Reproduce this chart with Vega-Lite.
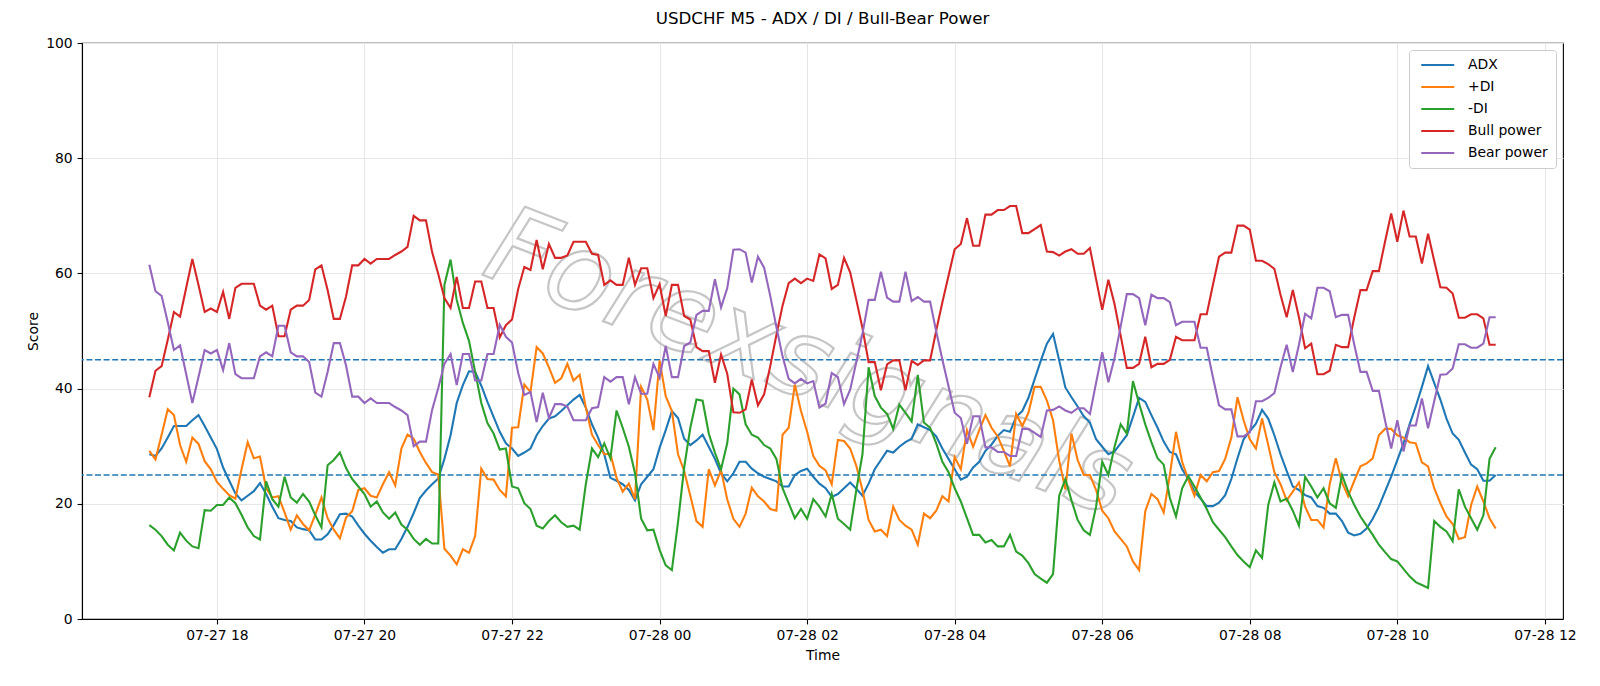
{
  "$schema": "https://vega.github.io/schema/vega-lite/v6.json",
  "width": 1481,
  "height": 576,
  "autosize": {"type": "none"},
  "padding": {"left": 82, "top": 43, "right": 37, "bottom": 67},
  "background": "white",
  "title": {
    "text": "USDCHF M5 - ADX / DI / Bull-Bear Power",
    "fontSize": 16.7,
    "fontWeight": "normal",
    "font": "DejaVu Sans",
    "color": "#000000",
    "anchor": "middle",
    "offset": 8
  },
  "config": {
    "font": "DejaVu Sans",
    "view": {"stroke": "#000000", "strokeWidth": 1.1},
    "axis": {
      "domainColor": "#000000",
      "domainWidth": 1.1,
      "tickColor": "#000000",
      "tickWidth": 1.1,
      "tickSize": 4.9,
      "labelFontSize": 13.9,
      "labelColor": "#000000",
      "labelPadding": 4.9,
      "titleFontSize": 13.9,
      "titleFontWeight": "normal",
      "titleColor": "#000000",
      "titlePadding": 5.6,
      "gridColor": "#e6e6e6",
      "gridWidth": 1.1
    },
    "legend": {
      "labelFontSize": 13.9,
      "labelColor": "#000000"
    }
  },
  "datasets": {
    "dmi": [
      {"t":"2025-07-27T17:05:00Z","ADX":28.6,"+DI":29.2,"-DI":16.3,"Bull power":38.5,"Bear power":61.5},
      {"t":"2025-07-27T17:10:00Z","ADX":28.3,"+DI":27.7,"-DI":15.5,"Bull power":43.1,"Bear power":56.9},
      {"t":"2025-07-27T17:15:00Z","ADX":29.6,"+DI":32.0,"-DI":14.4,"Bull power":43.9,"Bear power":56.1},
      {"t":"2025-07-27T17:20:00Z","ADX":31.5,"+DI":36.4,"-DI":12.9,"Bull power":48.5,"Bear power":51.5},
      {"t":"2025-07-27T17:25:00Z","ADX":33.5,"+DI":35.4,"-DI":11.9,"Bull power":53.3,"Bear power":46.7},
      {"t":"2025-07-27T17:30:00Z","ADX":33.5,"+DI":30.2,"-DI":15.0,"Bull power":52.5,"Bear power":47.5},
      {"t":"2025-07-27T17:35:00Z","ADX":33.5,"+DI":27.3,"-DI":13.6,"Bull power":57.5,"Bear power":42.5},
      {"t":"2025-07-27T17:40:00Z","ADX":34.5,"+DI":31.5,"-DI":12.6,"Bull power":62.5,"Bear power":37.5},
      {"t":"2025-07-27T17:45:00Z","ADX":35.4,"+DI":30.4,"-DI":12.3,"Bull power":58.0,"Bear power":42.0},
      {"t":"2025-07-27T17:50:00Z","ADX":33.5,"+DI":27.4,"-DI":18.9,"Bull power":53.3,"Bear power":46.7},
      {"t":"2025-07-27T17:55:00Z","ADX":31.5,"+DI":26.0,"-DI":18.8,"Bull power":53.9,"Bear power":46.1},
      {"t":"2025-07-27T18:00:00Z","ADX":29.5,"+DI":23.8,"-DI":19.8,"Bull power":53.3,"Bear power":46.7},
      {"t":"2025-07-27T18:05:00Z","ADX":26.3,"+DI":22.6,"-DI":19.8,"Bull power":56.8,"Bear power":43.2},
      {"t":"2025-07-27T18:10:00Z","ADX":24.0,"+DI":21.5,"-DI":21.1,"Bull power":52.1,"Bear power":47.9},
      {"t":"2025-07-27T18:15:00Z","ADX":21.8,"+DI":20.9,"-DI":20.1,"Bull power":57.5,"Bear power":42.5},
      {"t":"2025-07-27T18:20:00Z","ADX":20.6,"+DI":26.0,"-DI":18.1,"Bull power":58.2,"Bear power":41.8},
      {"t":"2025-07-27T18:25:00Z","ADX":21.4,"+DI":30.7,"-DI":15.9,"Bull power":58.2,"Bear power":41.8},
      {"t":"2025-07-27T18:30:00Z","ADX":22.2,"+DI":27.9,"-DI":14.4,"Bull power":58.2,"Bear power":41.8},
      {"t":"2025-07-27T18:35:00Z","ADX":23.6,"+DI":28.2,"-DI":13.8,"Bull power":54.4,"Bear power":45.6},
      {"t":"2025-07-27T18:40:00Z","ADX":21.7,"+DI":22.7,"-DI":23.9,"Bull power":53.7,"Bear power":46.3},
      {"t":"2025-07-27T18:45:00Z","ADX":19.5,"+DI":21.1,"-DI":20.8,"Bull power":54.4,"Bear power":45.6},
      {"t":"2025-07-27T18:50:00Z","ADX":17.5,"+DI":21.3,"-DI":19.5,"Bull power":49.1,"Bear power":50.9},
      {"t":"2025-07-27T18:55:00Z","ADX":17.2,"+DI":18.5,"-DI":24.7,"Bull power":49.1,"Bear power":50.9},
      {"t":"2025-07-27T19:00:00Z","ADX":17.0,"+DI":15.5,"-DI":21.1,"Bull power":53.7,"Bear power":46.3},
      {"t":"2025-07-27T19:05:00Z","ADX":15.9,"+DI":18.0,"-DI":20.2,"Bull power":54.4,"Bear power":45.6},
      {"t":"2025-07-27T19:10:00Z","ADX":15.6,"+DI":16.5,"-DI":21.7,"Bull power":54.4,"Bear power":45.6},
      {"t":"2025-07-27T19:15:00Z","ADX":15.4,"+DI":15.4,"-DI":20.4,"Bull power":55.4,"Bear power":44.6},
      {"t":"2025-07-27T19:20:00Z","ADX":13.8,"+DI":18.1,"-DI":18.0,"Bull power":60.7,"Bear power":39.3},
      {"t":"2025-07-27T19:25:00Z","ADX":13.8,"+DI":21.1,"-DI":15.9,"Bull power":61.4,"Bear power":38.6},
      {"t":"2025-07-27T19:30:00Z","ADX":14.7,"+DI":17.5,"-DI":26.7,"Bull power":57.1,"Bear power":42.9},
      {"t":"2025-07-27T19:35:00Z","ADX":16.3,"+DI":15.5,"-DI":27.6,"Bull power":52.1,"Bear power":47.9},
      {"t":"2025-07-27T19:40:00Z","ADX":18.2,"+DI":14.0,"-DI":28.9,"Bull power":52.1,"Bear power":47.9},
      {"t":"2025-07-27T19:45:00Z","ADX":18.3,"+DI":17.6,"-DI":26.2,"Bull power":56.0,"Bear power":44.0},
      {"t":"2025-07-27T19:50:00Z","ADX":17.8,"+DI":18.7,"-DI":24.3,"Bull power":61.4,"Bear power":38.6},
      {"t":"2025-07-27T19:55:00Z","ADX":16.2,"+DI":22.4,"-DI":23.0,"Bull power":61.4,"Bear power":38.6},
      {"t":"2025-07-27T20:00:00Z","ADX":14.8,"+DI":22.7,"-DI":21.7,"Bull power":62.5,"Bear power":37.5},
      {"t":"2025-07-27T20:05:00Z","ADX":13.6,"+DI":21.4,"-DI":19.5,"Bull power":61.7,"Bear power":38.3},
      {"t":"2025-07-27T20:10:00Z","ADX":12.5,"+DI":21.1,"-DI":20.4,"Bull power":62.5,"Bear power":37.5},
      {"t":"2025-07-27T20:15:00Z","ADX":11.5,"+DI":23.4,"-DI":18.5,"Bull power":62.5,"Bear power":37.5},
      {"t":"2025-07-27T20:20:00Z","ADX":12.1,"+DI":25.5,"-DI":17.4,"Bull power":62.5,"Bear power":37.5},
      {"t":"2025-07-27T20:25:00Z","ADX":12.1,"+DI":23.2,"-DI":18.5,"Bull power":63.2,"Bear power":36.8},
      {"t":"2025-07-27T20:30:00Z","ADX":13.9,"+DI":29.6,"-DI":16.4,"Bull power":63.8,"Bear power":36.2},
      {"t":"2025-07-27T20:35:00Z","ADX":16.0,"+DI":32.0,"-DI":15.5,"Bull power":64.6,"Bear power":35.4},
      {"t":"2025-07-27T20:40:00Z","ADX":18.4,"+DI":31.3,"-DI":13.9,"Bull power":70.0,"Bear power":30.0},
      {"t":"2025-07-27T20:45:00Z","ADX":21.0,"+DI":29.0,"-DI":12.9,"Bull power":69.2,"Bear power":30.8},
      {"t":"2025-07-27T20:50:00Z","ADX":22.3,"+DI":27.1,"-DI":13.9,"Bull power":69.2,"Bear power":30.8},
      {"t":"2025-07-27T20:55:00Z","ADX":23.4,"+DI":25.5,"-DI":13.1,"Bull power":63.7,"Bear power":36.3},
      {"t":"2025-07-27T21:00:00Z","ADX":24.4,"+DI":25.1,"-DI":13.1,"Bull power":59.9,"Bear power":40.1},
      {"t":"2025-07-27T21:05:00Z","ADX":27.8,"+DI":12.2,"-DI":58.0,"Bull power":55.7,"Bear power":44.3},
      {"t":"2025-07-27T21:10:00Z","ADX":31.9,"+DI":11.0,"-DI":62.4,"Bull power":54.0,"Bear power":46.0},
      {"t":"2025-07-27T21:15:00Z","ADX":37.5,"+DI":9.5,"-DI":55.4,"Bull power":59.4,"Bear power":40.6},
      {"t":"2025-07-27T21:20:00Z","ADX":40.6,"+DI":12.1,"-DI":51.4,"Bull power":54.0,"Bear power":46.0},
      {"t":"2025-07-27T21:25:00Z","ADX":43.0,"+DI":11.5,"-DI":48.3,"Bull power":54.0,"Bear power":46.0},
      {"t":"2025-07-27T21:30:00Z","ADX":42.9,"+DI":14.4,"-DI":42.9,"Bull power":58.6,"Bear power":41.4},
      {"t":"2025-07-27T21:35:00Z","ADX":40.5,"+DI":26.1,"-DI":37.5,"Bull power":58.6,"Bear power":41.4},
      {"t":"2025-07-27T21:40:00Z","ADX":37.7,"+DI":24.3,"-DI":34.0,"Bull power":54.0,"Bear power":46.0},
      {"t":"2025-07-27T21:45:00Z","ADX":35.1,"+DI":24.2,"-DI":32.2,"Bull power":54.0,"Bear power":46.0},
      {"t":"2025-07-27T21:50:00Z","ADX":32.5,"+DI":22.4,"-DI":29.4,"Bull power":48.9,"Bear power":51.1},
      {"t":"2025-07-27T21:55:00Z","ADX":30.5,"+DI":21.3,"-DI":29.6,"Bull power":51.0,"Bear power":49.0},
      {"t":"2025-07-27T22:00:00Z","ADX":29.6,"+DI":33.2,"-DI":23.0,"Bull power":52.0,"Bear power":48.0},
      {"t":"2025-07-27T22:05:00Z","ADX":28.3,"+DI":33.3,"-DI":22.7,"Bull power":57.3,"Bear power":42.7},
      {"t":"2025-07-27T22:10:00Z","ADX":28.9,"+DI":40.7,"-DI":20.1,"Bull power":61.1,"Bear power":38.9},
      {"t":"2025-07-27T22:15:00Z","ADX":29.6,"+DI":39.4,"-DI":19.1,"Bull power":60.6,"Bear power":39.4},
      {"t":"2025-07-27T22:20:00Z","ADX":31.9,"+DI":47.2,"-DI":16.2,"Bull power":65.8,"Bear power":34.2},
      {"t":"2025-07-27T22:25:00Z","ADX":33.5,"+DI":46.1,"-DI":15.7,"Bull power":60.7,"Bear power":39.3},
      {"t":"2025-07-27T22:30:00Z","ADX":34.8,"+DI":43.7,"-DI":17.0,"Bull power":65.1,"Bear power":34.9},
      {"t":"2025-07-27T22:35:00Z","ADX":35.2,"+DI":41.0,"-DI":18.0,"Bull power":62.7,"Bear power":37.3},
      {"t":"2025-07-27T22:40:00Z","ADX":36.1,"+DI":41.8,"-DI":16.8,"Bull power":62.7,"Bear power":37.3},
      {"t":"2025-07-27T22:45:00Z","ADX":37.1,"+DI":44.3,"-DI":16.0,"Bull power":63.1,"Bear power":36.9},
      {"t":"2025-07-27T22:50:00Z","ADX":38.1,"+DI":41.4,"-DI":16.2,"Bull power":65.5,"Bear power":34.5},
      {"t":"2025-07-27T22:55:00Z","ADX":38.9,"+DI":42.4,"-DI":15.5,"Bull power":65.5,"Bear power":34.5},
      {"t":"2025-07-27T23:00:00Z","ADX":36.7,"+DI":36.7,"-DI":23.4,"Bull power":65.5,"Bear power":34.5},
      {"t":"2025-07-27T23:05:00Z","ADX":33.8,"+DI":32.0,"-DI":29.6,"Bull power":63.4,"Bear power":36.6},
      {"t":"2025-07-27T23:10:00Z","ADX":31.5,"+DI":30.2,"-DI":28.1,"Bull power":63.2,"Bear power":36.8},
      {"t":"2025-07-27T23:15:00Z","ADX":28.6,"+DI":28.6,"-DI":30.5,"Bull power":58.0,"Bear power":42.0},
      {"t":"2025-07-27T23:20:00Z","ADX":24.5,"+DI":28.7,"-DI":27.9,"Bull power":58.8,"Bear power":41.2},
      {"t":"2025-07-27T23:25:00Z","ADX":24.0,"+DI":24.5,"-DI":36.2,"Bull power":58.0,"Bear power":42.0},
      {"t":"2025-07-27T23:30:00Z","ADX":23.4,"+DI":22.1,"-DI":33.2,"Bull power":58.0,"Bear power":42.0},
      {"t":"2025-07-27T23:35:00Z","ADX":22.4,"+DI":23.5,"-DI":29.9,"Bull power":62.7,"Bear power":37.3},
      {"t":"2025-07-27T23:40:00Z","ADX":20.6,"+DI":20.8,"-DI":25.3,"Bull power":58.0,"Bear power":42.0},
      {"t":"2025-07-27T23:45:00Z","ADX":23.4,"+DI":40.3,"-DI":17.4,"Bull power":60.9,"Bear power":39.1},
      {"t":"2025-07-27T23:50:00Z","ADX":24.7,"+DI":38.1,"-DI":15.4,"Bull power":60.9,"Bear power":39.1},
      {"t":"2025-07-27T23:55:00Z","ADX":26.0,"+DI":32.8,"-DI":15.5,"Bull power":55.7,"Bear power":44.3},
      {"t":"2025-07-28T00:00:00Z","ADX":29.7,"+DI":44.9,"-DI":12.0,"Bull power":58.1,"Bear power":41.9},
      {"t":"2025-07-28T00:05:00Z","ADX":32.8,"+DI":38.7,"-DI":9.3,"Bull power":52.6,"Bear power":47.4},
      {"t":"2025-07-28T00:10:00Z","ADX":36.1,"+DI":36.1,"-DI":8.5,"Bull power":58.0,"Bear power":42.0},
      {"t":"2025-07-28T00:15:00Z","ADX":34.9,"+DI":28.6,"-DI":16.8,"Bull power":58.0,"Bear power":42.0},
      {"t":"2025-07-28T00:20:00Z","ADX":31.3,"+DI":25.7,"-DI":26.3,"Bull power":52.6,"Bear power":47.4},
      {"t":"2025-07-28T00:25:00Z","ADX":30.2,"+DI":21.4,"-DI":33.2,"Bull power":52.0,"Bear power":48.0},
      {"t":"2025-07-28T00:30:00Z","ADX":31.0,"+DI":17.0,"-DI":38.1,"Bull power":47.2,"Bear power":52.8},
      {"t":"2025-07-28T00:35:00Z","ADX":32.0,"+DI":16.0,"-DI":37.9,"Bull power":46.5,"Bear power":53.5},
      {"t":"2025-07-28T00:40:00Z","ADX":29.9,"+DI":26.0,"-DI":32.2,"Bull power":46.5,"Bear power":53.5},
      {"t":"2025-07-28T00:45:00Z","ADX":27.8,"+DI":23.2,"-DI":28.9,"Bull power":41.0,"Bear power":59.0},
      {"t":"2025-07-28T00:50:00Z","ADX":25.3,"+DI":25.8,"-DI":26.0,"Bull power":45.9,"Bear power":54.1},
      {"t":"2025-07-28T00:55:00Z","ADX":23.9,"+DI":20.8,"-DI":30.5,"Bull power":42.6,"Bear power":57.4},
      {"t":"2025-07-28T01:00:00Z","ADX":25.3,"+DI":17.4,"-DI":40.0,"Bull power":35.9,"Bear power":64.1},
      {"t":"2025-07-28T01:05:00Z","ADX":27.3,"+DI":16.0,"-DI":39.0,"Bull power":35.8,"Bear power":64.2},
      {"t":"2025-07-28T01:10:00Z","ADX":27.3,"+DI":18.3,"-DI":33.8,"Bull power":36.4,"Bear power":63.6},
      {"t":"2025-07-28T01:15:00Z","ADX":26.1,"+DI":22.8,"-DI":32.0,"Bull power":41.6,"Bear power":58.4},
      {"t":"2025-07-28T01:20:00Z","ADX":25.3,"+DI":21.3,"-DI":31.5,"Bull power":37.1,"Bear power":62.9},
      {"t":"2025-07-28T01:25:00Z","ADX":24.7,"+DI":20.4,"-DI":30.2,"Bull power":39.0,"Bear power":61.0},
      {"t":"2025-07-28T01:30:00Z","ADX":24.3,"+DI":19.1,"-DI":29.6,"Bull power":43.9,"Bear power":56.1},
      {"t":"2025-07-28T01:35:00Z","ADX":23.9,"+DI":18.8,"-DI":27.8,"Bull power":49.3,"Bear power":50.7},
      {"t":"2025-07-28T01:40:00Z","ADX":23.0,"+DI":32.0,"-DI":22.7,"Bull power":54.4,"Bear power":45.6},
      {"t":"2025-07-28T01:45:00Z","ADX":23.0,"+DI":33.2,"-DI":20.1,"Bull power":58.3,"Bear power":41.7},
      {"t":"2025-07-28T01:50:00Z","ADX":25.0,"+DI":40.7,"-DI":17.5,"Bull power":59.1,"Bear power":40.9},
      {"t":"2025-07-28T01:55:00Z","ADX":25.7,"+DI":36.1,"-DI":19.1,"Bull power":58.3,"Bear power":41.7},
      {"t":"2025-07-28T02:00:00Z","ADX":26.1,"+DI":32.5,"-DI":17.4,"Bull power":59.1,"Bear power":40.9},
      {"t":"2025-07-28T02:05:00Z","ADX":24.7,"+DI":28.3,"-DI":20.8,"Bull power":58.7,"Bear power":41.3},
      {"t":"2025-07-28T02:10:00Z","ADX":23.5,"+DI":26.6,"-DI":19.5,"Bull power":63.3,"Bear power":36.7},
      {"t":"2025-07-28T02:15:00Z","ADX":22.7,"+DI":25.8,"-DI":17.8,"Bull power":62.6,"Bear power":37.4},
      {"t":"2025-07-28T02:20:00Z","ADX":21.2,"+DI":23.4,"-DI":21.7,"Bull power":57.3,"Bear power":42.7},
      {"t":"2025-07-28T02:25:00Z","ADX":21.7,"+DI":31.1,"-DI":17.4,"Bull power":58.0,"Bear power":42.0},
      {"t":"2025-07-28T02:30:00Z","ADX":22.7,"+DI":30.9,"-DI":16.5,"Bull power":62.7,"Bear power":37.3},
      {"t":"2025-07-28T02:35:00Z","ADX":23.7,"+DI":29.6,"-DI":15.5,"Bull power":60.2,"Bear power":39.8},
      {"t":"2025-07-28T02:40:00Z","ADX":22.6,"+DI":26.6,"-DI":22.4,"Bull power":55.4,"Bear power":44.6},
      {"t":"2025-07-28T02:45:00Z","ADX":21.4,"+DI":22.4,"-DI":28.6,"Bull power":50.5,"Bear power":49.5},
      {"t":"2025-07-28T02:50:00Z","ADX":23.5,"+DI":17.2,"-DI":43.7,"Bull power":44.6,"Bear power":55.4},
      {"t":"2025-07-28T02:55:00Z","ADX":26.0,"+DI":15.2,"-DI":38.7,"Bull power":44.6,"Bear power":55.4},
      {"t":"2025-07-28T03:00:00Z","ADX":27.6,"+DI":15.5,"-DI":36.7,"Bull power":39.7,"Bear power":60.3},
      {"t":"2025-07-28T03:05:00Z","ADX":29.2,"+DI":14.4,"-DI":35.6,"Bull power":44.2,"Bear power":55.8},
      {"t":"2025-07-28T03:10:00Z","ADX":28.9,"+DI":19.5,"-DI":33.0,"Bull power":44.9,"Bear power":55.1},
      {"t":"2025-07-28T03:15:00Z","ADX":29.9,"+DI":17.2,"-DI":37.2,"Bull power":44.9,"Bear power":55.1},
      {"t":"2025-07-28T03:20:00Z","ADX":30.7,"+DI":16.2,"-DI":35.8,"Bull power":39.7,"Bear power":60.3},
      {"t":"2025-07-28T03:25:00Z","ADX":31.3,"+DI":15.5,"-DI":34.3,"Bull power":44.8,"Bear power":55.2},
      {"t":"2025-07-28T03:30:00Z","ADX":33.8,"+DI":12.9,"-DI":42.4,"Bull power":44.1,"Bear power":55.9},
      {"t":"2025-07-28T03:35:00Z","ADX":33.3,"+DI":18.3,"-DI":34.1,"Bull power":44.9,"Bear power":55.1},
      {"t":"2025-07-28T03:40:00Z","ADX":32.8,"+DI":17.5,"-DI":33.2,"Bull power":44.9,"Bear power":55.1},
      {"t":"2025-07-28T03:45:00Z","ADX":31.7,"+DI":18.8,"-DI":30.5,"Bull power":50.1,"Bear power":49.9},
      {"t":"2025-07-28T03:50:00Z","ADX":29.6,"+DI":21.3,"-DI":27.3,"Bull power":55.0,"Bear power":45.0},
      {"t":"2025-07-28T03:55:00Z","ADX":27.8,"+DI":20.4,"-DI":25.5,"Bull power":59.6,"Bear power":40.4},
      {"t":"2025-07-28T04:00:00Z","ADX":26.0,"+DI":28.1,"-DI":22.7,"Bull power":64.2,"Bear power":35.8},
      {"t":"2025-07-28T04:05:00Z","ADX":24.2,"+DI":26.0,"-DI":20.4,"Bull power":65.1,"Bear power":34.9},
      {"t":"2025-07-28T04:10:00Z","ADX":24.7,"+DI":32.8,"-DI":17.5,"Bull power":69.6,"Bear power":30.4},
      {"t":"2025-07-28T04:15:00Z","ADX":26.3,"+DI":29.9,"-DI":14.6,"Bull power":64.8,"Bear power":35.2},
      {"t":"2025-07-28T04:20:00Z","ADX":27.3,"+DI":32.8,"-DI":14.6,"Bull power":64.8,"Bear power":35.2},
      {"t":"2025-07-28T04:25:00Z","ADX":29.2,"+DI":35.4,"-DI":13.3,"Bull power":70.2,"Bear power":29.8},
      {"t":"2025-07-28T04:30:00Z","ADX":30.3,"+DI":33.2,"-DI":13.7,"Bull power":70.2,"Bear power":29.8},
      {"t":"2025-07-28T04:35:00Z","ADX":31.8,"+DI":31.7,"-DI":12.6,"Bull power":71.0,"Bear power":29.0},
      {"t":"2025-07-28T04:40:00Z","ADX":32.8,"+DI":29.2,"-DI":12.6,"Bull power":71.0,"Bear power":29.0},
      {"t":"2025-07-28T04:45:00Z","ADX":32.5,"+DI":26.5,"-DI":14.6,"Bull power":71.7,"Bear power":28.3},
      {"t":"2025-07-28T04:50:00Z","ADX":35.1,"+DI":35.6,"-DI":11.7,"Bull power":71.7,"Bear power":28.3},
      {"t":"2025-07-28T04:55:00Z","ADX":36.1,"+DI":33.5,"-DI":11.0,"Bull power":67.0,"Bear power":33.0},
      {"t":"2025-07-28T05:00:00Z","ADX":38.4,"+DI":35.8,"-DI":9.7,"Bull power":67.0,"Bear power":33.0},
      {"t":"2025-07-28T05:05:00Z","ADX":41.6,"+DI":40.3,"-DI":7.8,"Bull power":67.7,"Bear power":32.3},
      {"t":"2025-07-28T05:10:00Z","ADX":44.8,"+DI":40.3,"-DI":7.0,"Bull power":68.4,"Bear power":31.6},
      {"t":"2025-07-28T05:15:00Z","ADX":47.8,"+DI":37.9,"-DI":6.3,"Bull power":63.8,"Bear power":36.2},
      {"t":"2025-07-28T05:20:00Z","ADX":49.5,"+DI":34.5,"-DI":7.8,"Bull power":63.7,"Bear power":36.3},
      {"t":"2025-07-28T05:25:00Z","ADX":44.9,"+DI":27.5,"-DI":21.4,"Bull power":63.1,"Bear power":36.9},
      {"t":"2025-07-28T05:30:00Z","ADX":40.2,"+DI":22.5,"-DI":24.3,"Bull power":63.8,"Bear power":36.2},
      {"t":"2025-07-28T05:35:00Z","ADX":38.5,"+DI":32.2,"-DI":20.6,"Bull power":64.2,"Bear power":35.8},
      {"t":"2025-07-28T05:40:00Z","ADX":36.9,"+DI":27.6,"-DI":17.2,"Bull power":63.4,"Bear power":36.6},
      {"t":"2025-07-28T05:45:00Z","ADX":35.2,"+DI":25.0,"-DI":15.4,"Bull power":63.4,"Bear power":36.6},
      {"t":"2025-07-28T05:50:00Z","ADX":34.1,"+DI":25.0,"-DI":14.6,"Bull power":64.4,"Bear power":35.6},
      {"t":"2025-07-28T05:55:00Z","ADX":31.2,"+DI":22.4,"-DI":19.5,"Bull power":59.0,"Bear power":41.0},
      {"t":"2025-07-28T06:00:00Z","ADX":29.9,"+DI":18.8,"-DI":27.3,"Bull power":53.7,"Bear power":46.3},
      {"t":"2025-07-28T06:05:00Z","ADX":28.6,"+DI":17.5,"-DI":25.0,"Bull power":58.9,"Bear power":41.1},
      {"t":"2025-07-28T06:10:00Z","ADX":29.1,"+DI":15.2,"-DI":29.9,"Bull power":54.7,"Bear power":45.3},
      {"t":"2025-07-28T06:15:00Z","ADX":30.5,"+DI":13.9,"-DI":33.8,"Bull power":49.2,"Bear power":50.8},
      {"t":"2025-07-28T06:20:00Z","ADX":31.9,"+DI":12.6,"-DI":32.2,"Bull power":43.6,"Bear power":56.4},
      {"t":"2025-07-28T06:25:00Z","ADX":35.1,"+DI":10.0,"-DI":41.3,"Bull power":43.6,"Bear power":56.4},
      {"t":"2025-07-28T06:30:00Z","ADX":38.4,"+DI":8.5,"-DI":37.4,"Bull power":44.3,"Bear power":55.7},
      {"t":"2025-07-28T06:35:00Z","ADX":37.7,"+DI":18.7,"-DI":33.8,"Bull power":49.0,"Bear power":51.0},
      {"t":"2025-07-28T06:40:00Z","ADX":35.4,"+DI":21.7,"-DI":30.7,"Bull power":43.7,"Bear power":56.3},
      {"t":"2025-07-28T06:45:00Z","ADX":33.2,"+DI":20.8,"-DI":27.9,"Bull power":44.3,"Bear power":55.7},
      {"t":"2025-07-28T06:50:00Z","ADX":30.8,"+DI":18.5,"-DI":26.8,"Bull power":44.3,"Bear power":55.7},
      {"t":"2025-07-28T06:55:00Z","ADX":29.0,"+DI":25.0,"-DI":21.0,"Bull power":45.0,"Bear power":55.0},
      {"t":"2025-07-28T07:00:00Z","ADX":28.6,"+DI":32.5,"-DI":17.8,"Bull power":49.0,"Bear power":51.0},
      {"t":"2025-07-28T07:05:00Z","ADX":26.0,"+DI":27.3,"-DI":22.7,"Bull power":48.4,"Bear power":51.6},
      {"t":"2025-07-28T07:10:00Z","ADX":24.3,"+DI":24.2,"-DI":24.8,"Bull power":48.4,"Bear power":51.6},
      {"t":"2025-07-28T07:15:00Z","ADX":22.1,"+DI":21.4,"-DI":23.0,"Bull power":48.4,"Bear power":51.6},
      {"t":"2025-07-28T07:20:00Z","ADX":20.9,"+DI":25.0,"-DI":21.1,"Bull power":52.9,"Bear power":47.1},
      {"t":"2025-07-28T07:25:00Z","ADX":19.6,"+DI":23.9,"-DI":19.1,"Bull power":52.9,"Bear power":47.1},
      {"t":"2025-07-28T07:30:00Z","ADX":19.6,"+DI":25.5,"-DI":16.8,"Bull power":58.0,"Bear power":42.0},
      {"t":"2025-07-28T07:35:00Z","ADX":20.2,"+DI":25.7,"-DI":15.5,"Bull power":62.9,"Bear power":37.1},
      {"t":"2025-07-28T07:40:00Z","ADX":21.5,"+DI":27.8,"-DI":14.2,"Bull power":63.6,"Bear power":36.4},
      {"t":"2025-07-28T07:45:00Z","ADX":24.3,"+DI":31.5,"-DI":12.6,"Bull power":63.6,"Bear power":36.4},
      {"t":"2025-07-28T07:50:00Z","ADX":27.9,"+DI":38.5,"-DI":11.1,"Bull power":68.3,"Bear power":31.7},
      {"t":"2025-07-28T07:55:00Z","ADX":31.2,"+DI":34.5,"-DI":10.0,"Bull power":68.3,"Bear power":31.7},
      {"t":"2025-07-28T08:00:00Z","ADX":32.6,"+DI":31.2,"-DI":9.0,"Bull power":67.6,"Bear power":32.4},
      {"t":"2025-07-28T08:05:00Z","ADX":33.9,"+DI":29.6,"-DI":11.9,"Bull power":62.2,"Bear power":37.8},
      {"t":"2025-07-28T08:10:00Z","ADX":36.3,"+DI":34.8,"-DI":10.6,"Bull power":62.2,"Bear power":37.8},
      {"t":"2025-07-28T08:15:00Z","ADX":34.8,"+DI":30.2,"-DI":19.8,"Bull power":61.6,"Bear power":38.4},
      {"t":"2025-07-28T08:20:00Z","ADX":31.9,"+DI":25.5,"-DI":23.7,"Bull power":60.8,"Bear power":39.2},
      {"t":"2025-07-28T08:25:00Z","ADX":28.6,"+DI":23.4,"-DI":20.4,"Bull power":56.3,"Bear power":43.7},
      {"t":"2025-07-28T08:30:00Z","ADX":25.7,"+DI":20.6,"-DI":20.9,"Bull power":52.4,"Bear power":47.6},
      {"t":"2025-07-28T08:35:00Z","ADX":23.0,"+DI":22.1,"-DI":18.8,"Bull power":57.1,"Bear power":42.9},
      {"t":"2025-07-28T08:40:00Z","ADX":22.4,"+DI":23.7,"-DI":16.2,"Bull power":52.4,"Bear power":47.6},
      {"t":"2025-07-28T08:45:00Z","ADX":21.5,"+DI":19.5,"-DI":24.7,"Bull power":47.0,"Bear power":53.0},
      {"t":"2025-07-28T08:50:00Z","ADX":21.1,"+DI":17.2,"-DI":23.0,"Bull power":47.8,"Bear power":52.2},
      {"t":"2025-07-28T08:55:00Z","ADX":19.6,"+DI":17.2,"-DI":21.1,"Bull power":42.5,"Bear power":57.5},
      {"t":"2025-07-28T09:00:00Z","ADX":19.3,"+DI":15.9,"-DI":22.7,"Bull power":42.5,"Bear power":57.5},
      {"t":"2025-07-28T09:05:00Z","ADX":18.3,"+DI":23.4,"-DI":20.1,"Bull power":43.1,"Bear power":56.9},
      {"t":"2025-07-28T09:10:00Z","ADX":18.3,"+DI":27.9,"-DI":19.3,"Bull power":47.6,"Bear power":52.4},
      {"t":"2025-07-28T09:15:00Z","ADX":17.0,"+DI":23.7,"-DI":25.0,"Bull power":47.2,"Bear power":52.8},
      {"t":"2025-07-28T09:20:00Z","ADX":15.0,"+DI":21.3,"-DI":22.1,"Bull power":47.2,"Bear power":52.8},
      {"t":"2025-07-28T09:25:00Z","ADX":14.5,"+DI":24.0,"-DI":19.8,"Bull power":52.4,"Bear power":47.6},
      {"t":"2025-07-28T09:30:00Z","ADX":14.8,"+DI":26.5,"-DI":17.8,"Bull power":57.1,"Bear power":42.9},
      {"t":"2025-07-28T09:35:00Z","ADX":15.7,"+DI":27.0,"-DI":16.2,"Bull power":57.1,"Bear power":42.9},
      {"t":"2025-07-28T09:40:00Z","ADX":17.4,"+DI":27.9,"-DI":14.6,"Bull power":60.4,"Bear power":39.6},
      {"t":"2025-07-28T09:45:00Z","ADX":19.5,"+DI":31.9,"-DI":12.9,"Bull power":60.4,"Bear power":39.6},
      {"t":"2025-07-28T09:50:00Z","ADX":22.1,"+DI":33.0,"-DI":11.6,"Bull power":65.5,"Bear power":34.5},
      {"t":"2025-07-28T09:55:00Z","ADX":24.7,"+DI":33.0,"-DI":10.4,"Bull power":70.4,"Bear power":29.6},
      {"t":"2025-07-28T10:00:00Z","ADX":27.6,"+DI":31.9,"-DI":10.0,"Bull power":65.5,"Bear power":34.5},
      {"t":"2025-07-28T10:05:00Z","ADX":30.5,"+DI":31.5,"-DI":8.7,"Bull power":70.9,"Bear power":29.1},
      {"t":"2025-07-28T10:10:00Z","ADX":33.8,"+DI":30.7,"-DI":7.4,"Bull power":66.4,"Bear power":33.6},
      {"t":"2025-07-28T10:15:00Z","ADX":36.9,"+DI":30.5,"-DI":6.4,"Bull power":66.4,"Bear power":33.6},
      {"t":"2025-07-28T10:20:00Z","ADX":40.3,"+DI":27.2,"-DI":5.9,"Bull power":61.7,"Bear power":38.3},
      {"t":"2025-07-28T10:25:00Z","ADX":43.9,"+DI":26.5,"-DI":5.4,"Bull power":66.9,"Bear power":33.1},
      {"t":"2025-07-28T10:30:00Z","ADX":41.0,"+DI":22.7,"-DI":17.0,"Bull power":62.2,"Bear power":37.8},
      {"t":"2025-07-28T10:35:00Z","ADX":38.1,"+DI":20.1,"-DI":16.0,"Bull power":57.6,"Bear power":42.4},
      {"t":"2025-07-28T10:40:00Z","ADX":34.8,"+DI":17.8,"-DI":15.2,"Bull power":57.5,"Bear power":42.5},
      {"t":"2025-07-28T10:45:00Z","ADX":32.2,"+DI":16.5,"-DI":13.5,"Bull power":56.5,"Bear power":43.5},
      {"t":"2025-07-28T10:50:00Z","ADX":31.1,"+DI":13.9,"-DI":22.5,"Bull power":52.3,"Bear power":47.7},
      {"t":"2025-07-28T10:55:00Z","ADX":28.9,"+DI":14.2,"-DI":19.5,"Bull power":52.3,"Bear power":47.7},
      {"t":"2025-07-28T11:00:00Z","ADX":26.8,"+DI":19.8,"-DI":17.5,"Bull power":52.9,"Bear power":47.1},
      {"t":"2025-07-28T11:05:00Z","ADX":26.0,"+DI":23.0,"-DI":15.5,"Bull power":52.9,"Bear power":47.1},
      {"t":"2025-07-28T11:10:00Z","ADX":24.0,"+DI":20.4,"-DI":18.0,"Bull power":52.2,"Bear power":47.8},
      {"t":"2025-07-28T11:15:00Z","ADX":24.0,"+DI":17.5,"-DI":27.8,"Bull power":47.6,"Bear power":52.4},
      {"t":"2025-07-28T11:20:00Z","ADX":25.0,"+DI":15.7,"-DI":29.8,"Bull power":47.6,"Bear power":52.4}
    ],
    "levels": [{"level": 25}, {"level": 45}],
    "stamp": [{"label": "Forexsignals"}]
  },
  "layer": [
    {
      "data": {"name": "stamp"},
      "mark": {
        "type": "text",
        "angle": 21,
        "fontSize": 108,
        "fontStyle": "italic",
        "align": "center",
        "baseline": "middle",
        "fill": "#ffffff",
        "fillOpacity": 0,
        "stroke": "#c6c6c6",
        "strokeWidth": 2.2
      },
      "encoding": {
        "x": {"datum": 1753668046000, "type": "temporal"},
        "y": {"datum": 44.0, "type": "quantitative"},
        "text": {"field": "label", "type": "nominal"}
      }
    },
    {
      "data": {"name": "levels"},
      "mark": {"type": "rule", "color": "#1f77b4", "strokeWidth": 1.4, "strokeDash": [6, 2.6]},
      "encoding": {
        "y": {"field": "level", "type": "quantitative"}
      }
    },
    {
      "data": {"name": "dmi"},
      "transform": [
        {"fold": ["ADX", "+DI", "-DI", "Bull power", "Bear power"], "as": ["series", "value"]}
      ],
      "mark": {"type": "line", "strokeWidth": 2.1},
      "encoding": {
        "x": {
          "field": "t",
          "type": "temporal",
          "title": "Time",
          "scale": {"type": "utc", "domain": [1753632615000, 1753704885000]},
          "axis": {
            "values": [1753639200000, 1753646400000, 1753653600000, 1753660800000, 1753668000000, 1753675200000, 1753682400000, 1753689600000, 1753696800000, 1753704000000],
            "format": "%m-%d %H",
            "grid": true
          }
        },
        "y": {
          "field": "value",
          "type": "quantitative",
          "title": "Score",
          "scale": {"domain": [0, 100], "nice": false},
          "axis": {"values": [0, 20, 40, 60, 80, 100], "grid": true}
        },
        "color": {
          "field": "series",
          "type": "nominal",
          "scale": {
            "domain": ["ADX", "+DI", "-DI", "Bull power", "Bear power"],
            "range": ["#1f77b4", "#ff7f0e", "#2ca02c", "#d62728", "#9467bd"]
          },
          "legend": {
            "title": null,
            "orient": "top-right",
            "offset": 7,
            "padding": 8,
            "fillColor": "#ffffff",
            "strokeColor": "#cccccc",
            "cornerRadius": 3,
            "symbolType": "M-0.5,0H5.5",
            "symbolSize": 121,
            "symbolStrokeWidth": 2.1,
            "labelOffset": 37,
            "rowPadding": 8
          }
        }
      }
    }
  ]
}
